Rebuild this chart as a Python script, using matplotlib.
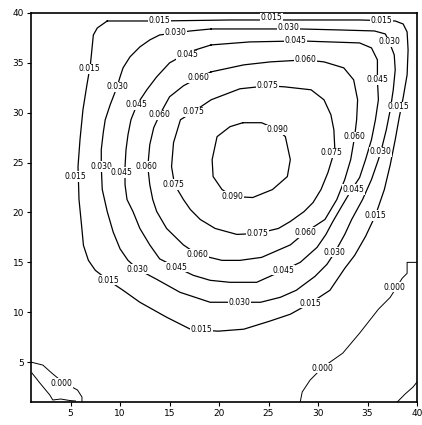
import matplotlib
matplotlib.use("Agg")
import matplotlib.pyplot as plt

# stream function levels and the traced contour lines (x, y in grid units)
levels = [0.000, 0.015, 0.030, 0.045, 0.060, 0.075, 0.090]

line_000_right = [(28.2, 1.0), (28.4, 2.0), (29.2, 3.2), (30.5, 4.5), (32.5, 5.9), (34.2, 7.9),
                  (36.1, 10.3), (37.3, 11.5), (38.5, 13.4), (39.0, 13.9), (39.0, 15.0), (40.0, 15.0)]
line_000_left_a = [(1.0, 5.0), (2.2, 4.7), (3.1, 3.9), (4.2, 3.0), (5.7, 2.2), (6.15, 1.5), (6.15, 1.0)]
line_000_left_b = [(1.1, 3.9), (1.9, 2.9), (2.9, 1.7), (3.2, 1.2), (4.0, 1.3), (4.9, 1.15), (5.5, 1.1)]
line_000_corner = [(38.0, 1.0), (38.8, 1.8), (39.6, 2.5), (40.0, 3.0)]

line_015 = [(8.7, 39.2), (14.0, 39.2), (21.1, 39.3), (28.2, 39.3), (34.2, 39.3), (37.8, 39.2),
            (38.6, 38.9), (39.0, 38.1), (39.1, 36.3), (39.0, 33.8), (38.6, 31.5), (38.2, 29.5),
            (37.8, 27.3), (37.3, 24.8), (36.7, 22.3), (35.8, 19.7), (34.8, 17.6), (33.7, 15.7),
            (32.7, 14.4), (31.2, 12.2), (29.2, 10.9), (27.2, 9.8), (25.1, 9.1), (22.5, 8.3),
            (19.9, 8.1), (17.1, 8.3), (14.7, 9.5), (12.0, 11.0), (10.3, 12.2), (8.8, 13.2),
            (7.5, 14.2), (6.8, 15.2), (6.3, 16.7), (6.1, 18.8), (5.85, 21.3), (5.75, 24.6),
            (5.95, 27.3), (6.25, 30.3), (6.65, 32.8), (7.0, 34.8), (7.2, 36.8), (7.3, 37.8),
            (7.7, 38.5), (8.7, 39.2)]
line_030 = [(19.2, 38.4), (17.1, 38.2), (15.6, 38.0), (14.0, 37.8), (13.0, 37.3), (12.0, 36.6),
            (11.0, 35.6), (10.3, 34.5), (10.0, 33.6), (9.7, 32.6), (9.0, 30.8), (8.5, 29.3),
            (8.3, 28.0), (8.1, 26.3), (8.1, 24.6), (8.2, 22.3), (8.7, 20.1), (9.3, 18.05),
            (10.0, 16.35), (10.8, 15.2), (11.8, 14.3), (13.7, 13.3), (16.05, 12.0), (19.1, 11.0),
            (22.1, 11.0), (24.2, 11.0), (26.2, 11.5), (27.8, 12.2), (29.7, 13.6), (30.9, 14.8),
            (31.7, 16.0), (32.7, 17.8), (33.4, 19.3), (34.5, 21.3), (35.4, 23.3), (36.1, 25.3),
            (36.4, 26.3), (36.9, 28.3), (37.3, 30.3), (37.6, 32.3), (37.8, 34.3), (37.7, 35.8),
            (37.2, 37.1), (36.8, 37.9), (35.7, 38.2), (32.2, 38.3), (28.2, 38.4), (23.1, 38.4),
            (19.2, 38.4)]
line_045 = [(19.2, 36.8), (17.6, 36.3), (16.8, 36.0), (15.0, 35.0), (13.7, 33.6), (12.7, 32.3),
            (11.7, 30.8), (11.1, 29.3), (10.8, 27.8), (10.6, 26.3), (10.5, 24.6), (10.5, 22.8),
            (10.7, 21.3), (11.3, 20.1), (12.0, 18.4), (13.0, 16.75), (14.0, 15.35), (15.7, 14.5),
            (17.4, 13.7), (19.1, 13.2), (21.1, 13.0), (23.8, 13.0), (26.5, 14.2), (28.2, 15.0),
            (29.9, 16.5), (30.8, 17.8), (31.5, 19.1), (32.5, 20.8), (33.4, 22.3), (34.2, 23.5),
            (34.8, 25.3), (35.4, 27.3), (35.8, 29.3), (36.1, 31.3), (36.0, 33.3), (36.0, 35.3),
            (35.4, 36.5), (34.2, 37.0), (31.2, 37.1), (28.2, 37.2), (23.1, 37.1), (19.2, 36.8)]
line_060 = [(19.2, 34.1), (17.9, 33.5), (16.4, 32.7), (15.0, 31.6), (14.0, 29.8), (13.4, 28.5),
            (13.0, 26.8), (12.8, 24.6), (13.0, 22.8), (13.3, 21.3), (13.7, 20.1), (14.7, 18.4),
            (16.4, 16.75), (17.8, 15.8), (20.3, 15.2), (22.1, 15.2), (24.3, 15.5), (27.2, 16.75),
            (28.7, 18.0), (30.7, 19.3), (31.9, 21.3), (32.7, 23.3), (33.3, 25.3), (33.7, 27.6),
            (33.9, 29.3), (34.0, 31.3), (33.6, 33.3), (32.6, 34.5), (30.6, 35.1), (28.7, 35.3),
            (25.2, 35.1), (22.5, 34.8), (19.2, 34.1)]
line_075 = [(24.9, 32.7), (26.6, 32.6), (29.3, 32.3), (30.6, 31.3), (31.3, 29.8), (31.6, 28.3),
            (31.7, 26.3), (31.4, 25.3), (31.0, 24.0), (30.3, 22.3), (29.5, 21.0), (28.6, 20.1),
            (27.2, 19.1), (26.0, 18.4), (23.9, 17.9), (21.8, 17.8), (19.6, 18.4), (18.1, 19.3),
            (17.1, 20.3), (16.4, 21.3), (15.5, 22.8), (15.2, 24.6), (15.3, 25.8), (15.4, 27.0),
            (16.1, 29.3), (17.4, 30.1), (19.2, 31.3), (22.1, 32.4), (24.9, 32.7)]
line_090 = [(22.4, 29.0), (24.3, 29.0), (25.9, 28.3), (26.7, 27.6), (27.2, 25.3), (26.9, 23.6),
            (25.4, 22.3), (23.4, 21.5), (21.4, 21.6), (20.3, 22.3), (19.4, 23.6), (19.3, 25.3),
            (19.8, 27.6), (21.1, 28.6), (22.4, 29.0)]

# inline label positions for each level
labels_000 = [(4.1, 2.9), (37.7, 12.5), (30.4, 4.4)]
labels_015 = [(14.0, 39.2), (25.3, 39.5), (36.4, 39.2), (6.9, 34.4), (5.5, 23.6),
              (8.8, 13.2), (18.2, 8.3), (29.2, 10.9), (35.8, 19.7), (38.1, 30.6)]
labels_030 = [(15.6, 38.0), (27.0, 38.5), (37.2, 37.1), (9.7, 32.6), (8.1, 24.6),
              (11.8, 14.3), (22.1, 11.0), (31.7, 16.0), (36.3, 26.1)]
labels_045 = [(16.8, 35.8), (27.7, 37.2), (36.0, 33.3), (11.7, 30.8), (10.1, 24.0),
              (15.7, 14.5), (26.5, 14.2), (33.6, 22.3)]
labels_060 = [(17.9, 33.5), (28.7, 35.3), (33.7, 27.6), (12.7, 24.6), (14.0, 29.8),
              (17.8, 15.8), (28.7, 18.0)]
labels_075 = [(24.9, 32.7), (17.4, 30.1), (15.4, 22.8), (23.9, 17.9), (31.4, 26.0)]
labels_090 = [(25.9, 28.3), (21.4, 21.6)]

lines = [[line_000_right, line_000_left_a, line_000_left_b, line_000_corner],
         [line_015], [line_030], [line_045], [line_060], [line_075], [line_090]]
labels = [labels_000, labels_015, labels_030, labels_045, labels_060, labels_075, labels_090]

fig = plt.figure(figsize=(4.22, 4.25), dpi=100)
ax = fig.add_axes([31 / 422, 23 / 425, 386 / 422, 389 / 425])

for lev, segs, labs in zip(levels, lines, labels):
    for seg in segs:
        xs = [p[0] for p in seg]
        ys = [p[1] for p in seg]
        ax.plot(xs, ys, color='black', lw=0.9 if lev > 0 else 0.7,
                solid_joinstyle='round', zorder=2)
    for lx, ly in labs:
        ax.text(lx, ly, f"{lev:.3f}", fontsize=5.5, ha='center', va='center',
                bbox=dict(boxstyle='square,pad=0.08', fc='white', ec='none'), zorder=3)

ax.set_xlim(1, 40)
ax.set_ylim(1, 40)
ax.set_xticks([5, 10, 15, 20, 25, 30, 35, 40])
ax.set_yticks([5, 10, 15, 20, 25, 30, 35, 40])
ax.tick_params(direction='out', length=3, width=0.8, labelsize=6.5, pad=2,
               top=False, right=False)
for s in ax.spines.values():
    s.set_linewidth(1.2)

fig.savefig('out.png', dpi=100)
